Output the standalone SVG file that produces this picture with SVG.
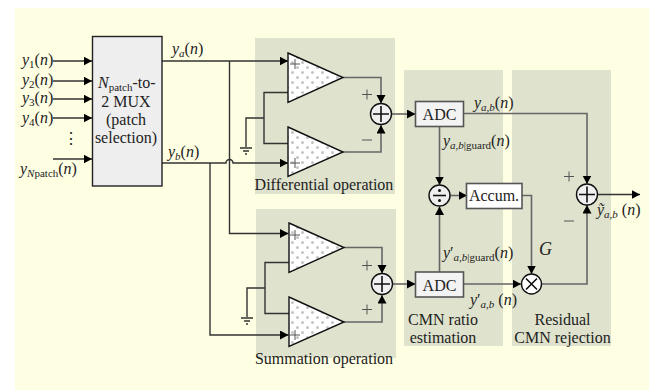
<svg xmlns="http://www.w3.org/2000/svg" width="649" height="390" viewBox="0 0 649 390">
<style>
text{font-family:"Liberation Serif","Times New Roman",serif;font-size:16px;fill:#222}
.i{font-style:italic}
.s{font-size:11px}
.c{text-anchor:middle}
.w{fill:none;stroke:#333;stroke-width:1.4}
.g{fill:none;stroke:#666;stroke-width:1.6}
.p{fill:#dfe3cd}
.amp{fill:url(#dots);stroke:#111;stroke-width:1.4}
.sum{fill:#f0f0f0;stroke:#111;stroke-width:1.4}
.box{fill:#f3f3f3;stroke:#555;stroke-width:1.6}
.sg{fill:none;stroke:#555;stroke-width:1}
.b{fill:none;stroke:#111;stroke-width:1.6}
</style>
<defs>
<pattern id="dots" width="10" height="10" patternUnits="userSpaceOnUse"><rect width="10" height="10" fill="#fff"/><circle cx="2.500" cy="2.500" r="1.500" fill="#c4c4c4"/><circle cx="7.500" cy="7.500" r="1.500" fill="#c4c4c4"/></pattern>
<marker id="a" markerUnits="userSpaceOnUse" markerWidth="9" markerHeight="10" refX="8.500" refY="4.500" orient="auto"><path d="M0 0L8.500 4.500L0 9z" fill="#000"/></marker>
</defs>
<rect x="15" y="8" width="634" height="382" fill="#fefee3"/>
<rect class="p" x="255" y="38" width="140" height="156"/>
<rect class="p" x="256" y="209" width="140" height="149"/>
<rect class="p" x="404" y="70" width="99" height="276"/>
<rect class="p" x="512" y="70" width="99" height="276"/>
<g id="connectors">
<path class="w" d="M53 61H92" marker-end="url(#a)"/>
<path class="w" d="M53 81H92" marker-end="url(#a)"/>
<path class="w" d="M53 99H92" marker-end="url(#a)"/>
<path class="w" d="M53 118H92" marker-end="url(#a)"/>
<path class="w" d="M53 159H92" marker-end="url(#a)"/>
<path class="w" d="M162 61H288" marker-end="url(#a)"/>
<path class="w" d="M229.500 61V233.500H288.500" marker-end="url(#a)"/>
<path class="w" d="M162 163H226a3.500 3.500 0 0 1 7 0H288" marker-end="url(#a)"/>
<path class="w" d="M210 163V335H288.500" marker-end="url(#a)"/>
<path class="w" d="M299 92.500H264V143.500H299"/>
<path class="w" d="M264 118H246V147"/>
<path class="w" d="M240 148H252M243 151H249M245 154H247"/>
<path class="w" d="M300 262.500H265V313.500H300"/>
<path class="w" d="M265 288H247V317"/>
<path class="w" d="M241 318H253M244 321H250M246 324H248"/>
<path class="g" d="M343 77.500H381V103.500" marker-end="url(#a)"/>
<path class="g" d="M343 152H381V125" marker-end="url(#a)"/>
<path class="g" d="M344 247.500H382V273.500" marker-end="url(#a)"/>
<path class="g" d="M344 322H382V295" marker-end="url(#a)"/>
<path class="g" d="M392 114H415.500" marker-end="url(#a)"/>
<path class="g" d="M393 284H415.500" marker-end="url(#a)"/>
<path class="g" d="M439.500 126V185" marker-end="url(#a)"/>
<path class="g" d="M439.500 272V206.500" marker-end="url(#a)"/>
<path class="g" d="M450 195.500H467" marker-end="url(#a)"/>
<path class="g" d="M522 195.500H531.500V274" marker-end="url(#a)"/>
<path class="g" d="M463 284H521" marker-end="url(#a)"/>
<path class="g" d="M542 284H587V205" marker-end="url(#a)"/>
<path class="g" d="M463 113.500H587V184" marker-end="url(#a)"/>
<path class="w" d="M598 194.500H640" marker-end="url(#a)"/>
</g>
<g id="inputs">
<text x="22" y="65"><tspan class="i">y</tspan><tspan class="s" dy="3">1</tspan><tspan dy="-3">(</tspan><tspan class="i">n</tspan>)</text>
<text x="22" y="85"><tspan class="i">y</tspan><tspan class="s" dy="3">2</tspan><tspan dy="-3">(</tspan><tspan class="i">n</tspan>)</text>
<text x="22" y="103"><tspan class="i">y</tspan><tspan class="s" dy="3">3</tspan><tspan dy="-3">(</tspan><tspan class="i">n</tspan>)</text>
<text x="22" y="123"><tspan class="i">y</tspan><tspan class="s" dy="3">4</tspan><tspan dy="-3">(</tspan><tspan class="i">n</tspan>)</text>
<text x="70.500" y="144" class="c">⋮</text>
<text x="20" y="174"><tspan class="i">y</tspan><tspan class="s i" dy="3">N</tspan><tspan class="s">patch</tspan><tspan dy="-3">(</tspan><tspan class="i">n</tspan>)</text>
</g>
<g id="mux"><rect x="92.500" y="36.500" width="69.500" height="149.500" fill="#eee" stroke="#222" stroke-width="1.400"/>
<text x="98" y="88"><tspan class="i">N</tspan><tspan class="s" dy="3">patch</tspan><tspan dy="-3">-to-</tspan></text>
<text class="c" x="126" y="107">2 MUX</text><text class="c" x="126" y="124.500">(patch</text><text class="c" x="126" y="143">selection)</text></g>
<text id="ya" x="172" y="54"><tspan class="i">y</tspan><tspan class="s i" dy="3">a</tspan><tspan dy="-3">(</tspan><tspan class="i">n</tspan>)</text>
<text id="yb" x="168" y="157"><tspan class="i">y</tspan><tspan class="s i" dy="3">b</tspan><tspan dy="-3">(</tspan><tspan class="i">n</tspan>)</text>
<g id="diff-amp-1"><path class="amp" d="M288 53L343 77.500L288 102.500z"/><path class="sg" d="M290 64H300M295 59V69"/></g>
<g id="diff-amp-2"><path class="amp" d="M288 127L343 152L288 176.500z"/><path class="sg" d="M290 163H300M295 158V168"/></g>
<g id="sum-amp-1"><path class="amp" d="M289 223L344 247.500L289 272.500z"/><path class="sg" d="M290 235H300M295 230V240"/></g>
<g id="sum-amp-2"><path class="amp" d="M289 297L344 322L289 346.500z"/><path class="sg" d="M290 335H300M295 330V340"/></g>
<g id="diff-sum"><circle class="sum" cx="381" cy="114" r="10.500"/><path class="b" d="M373 114H389M381 106V122"/><path class="sg" d="M362 94.500H372M367 89.500V99.500M362 140H372"/></g>
<g id="sum-sum"><circle class="sum" cx="382" cy="284" r="10.500"/><path class="b" d="M374 284H390M382 276V292"/><path class="sg" d="M362 265.500H372M367 260.500V270.500M362 309.500H372M367 304.500V314.500"/></g>
<text id="diff-label" class="c" x="324" y="190">Differential operation</text>
<text id="sum-label" class="c" x="324" y="364">Summation operation</text>
<g id="adc-top"><rect class="box" x="415.500" y="101.500" width="48" height="25"/><text class="c" x="439.500" y="120">ADC</text></g>
<g id="adc-bot"><rect class="box" x="415.500" y="272" width="48" height="25"/><text class="c" x="439.500" y="291">ADC</text></g>
<g id="div"><circle cx="439.500" cy="195.500" r="10.500" fill="#eee" stroke="#111" stroke-width="1.400"/><path class="b" d="M433 195.500H446"/><circle cx="439.500" cy="190.500" r="1.500" fill="#111"/><circle cx="439.500" cy="200.500" r="1.500" fill="#111"/></g>
<g id="accum"><rect x="466.500" y="183.500" width="55.500" height="25" fill="#fff" stroke="#555" stroke-width="1.600"/><text class="c" x="494" y="201">Accum.</text></g>
<g id="mul"><circle cx="531.500" cy="284" r="10" fill="#fff" stroke="#111" stroke-width="1.400"/><path class="b" d="M526 278.500L537 289.500M537 278.500L526 289.500"/></g>
<g id="add"><circle class="sum" cx="587" cy="194.500" r="10.500"/><path class="b" d="M579 194.500H595M587 186.500V202.500"/><path class="sg" d="M564 176.500H574M569 171.500V181.500M564 221H574"/></g>
<g id="labels">
<text x="474" y="108"><tspan class="i">y</tspan><tspan class="s i" dy="3">a,b</tspan><tspan dy="-3">(</tspan><tspan class="i">n</tspan>)</text>
<text x="443" y="146"><tspan class="i">y</tspan><tspan class="s i" dy="3">a,b</tspan><tspan class="s">|guard</tspan><tspan dy="-3">(</tspan><tspan class="i">n</tspan>)</text>
<text x="443" y="258"><tspan class="i">y</tspan>′<tspan class="s i" dy="3">a,b</tspan><tspan class="s">|guard</tspan><tspan dy="-3">(</tspan><tspan class="i">n</tspan>)</text>
<text x="470" y="305"><tspan class="i">y</tspan>′<tspan class="s i" dy="3">a,b</tspan><tspan dy="-3"> (</tspan><tspan class="i">n</tspan>)</text>
<text class="i" x="539" y="255" style="font-size:18px">G</text>
<text x="597" y="215"><tspan class="i">ỹ</tspan><tspan class="s i" dy="3">a,b</tspan><tspan dy="-3"> (</tspan><tspan class="i">n</tspan>)</text>
<text class="c" x="443" y="325">CMN ratio</text><text class="c" x="443" y="343">estimation</text>
<text class="c" x="562.500" y="325">Residual</text><text class="c" x="562.500" y="343">CMN rejection</text>
</g>
</svg>
